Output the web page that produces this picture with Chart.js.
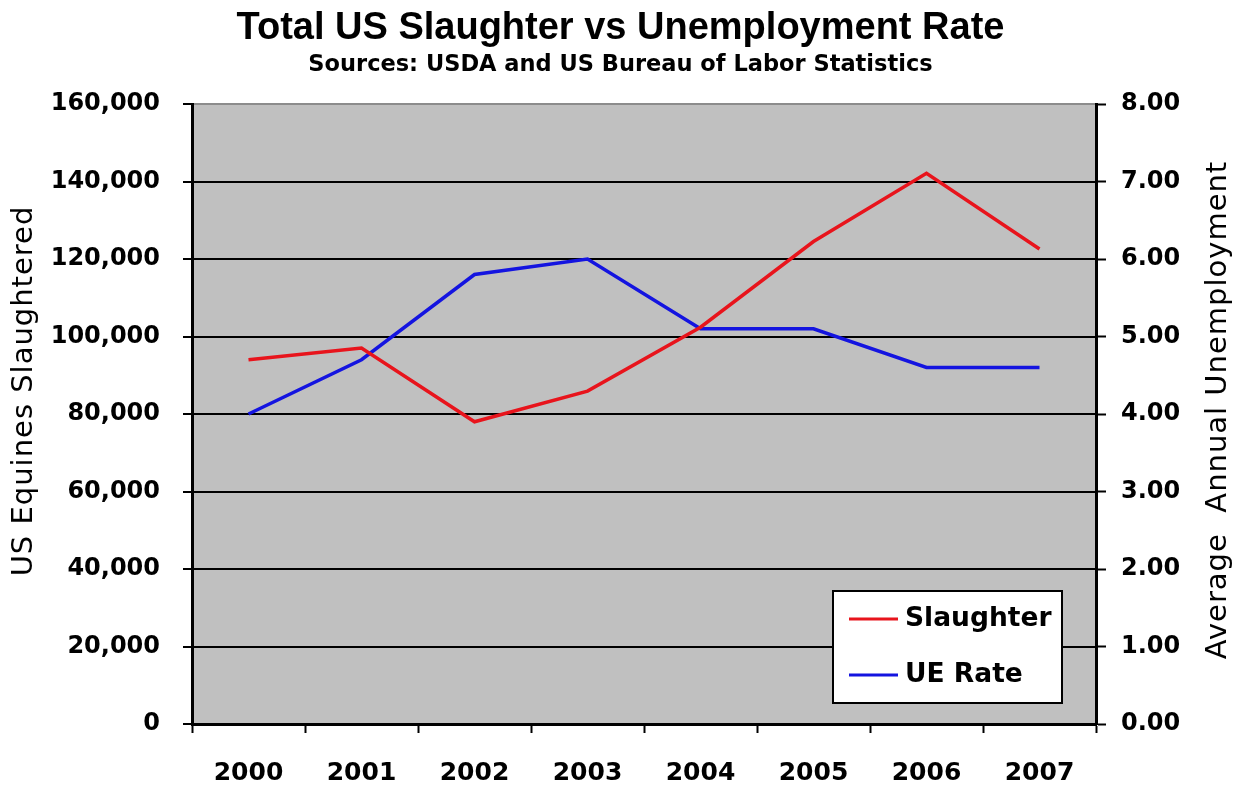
<!DOCTYPE html>
<html>
<head>
<meta charset="utf-8">
<script src="https://cdn.jsdelivr.net/npm/chart.js@4.4.1/dist/chart.umd.min.js"></script>
<style>
  html, body { margin: 0; padding: 0; background: #ffffff; }
  canvas { display: block; }
</style>
</head>
<body>
<canvas id="c" width="1241" height="786"></canvas>
<script>
// ---- data ----
const years = ['2000', '2001', '2002', '2003', '2004', '2005', '2006', '2007'];
const slaughter = [94000, 97000, 78000, 85900, 102400, 124500, 142100, 122600];
const ueRate = [4.0, 4.7, 5.8, 6.0, 5.1, 5.1, 4.6, 4.6];
const seriesNames = ['Slaughter', 'UE Rate'];
const seriesColors = ['#e8141c', '#1414e0'];
const chartTitle = 'Total US Slaughter vs Unemployment Rate';
const chartSubtitle = 'Sources: USDA and US Bureau of Labor Statistics';
const leftAxisTitle = 'US Equines Slaughtered';
const rightAxisTitle = 'Average  Annual Unemployment';
const leftMin = 0, leftMax = 160000, leftStep = 20000;
const rightMin = 0, rightMax = 8, rightStep = 1;

// ---- plugins ----
const plotBg = {
  id: 'plotBg',
  beforeDraw(chart) {
    const { ctx, chartArea: a } = chart;
    ctx.save();
    ctx.fillStyle = '#c0c0c0';
    ctx.fillRect(a.left, a.top, a.right - a.left, a.bottom - a.top);
    ctx.restore();
  }
};

function drawRotated(ctx, text, x, y, font, spacing) {
  ctx.save();
  ctx.translate(x, y);
  ctx.rotate(-Math.PI / 2);
  ctx.font = font;
  ctx.letterSpacing = spacing;
  ctx.textAlign = 'center';
  ctx.textBaseline = 'middle';
  ctx.fillStyle = '#000';
  ctx.fillText(text, 0, 0);
  ctx.restore();
}

const axisTitles = {
  id: 'axisTitles',
  afterDraw(chart) {
    const ctx = chart.ctx;
    drawRotated(ctx, leftAxisTitle, 24, 391, '29px "DejaVu Sans"', '1px');
    drawRotated(ctx, rightAxisTitle, 1218, 410, '29px "DejaVu Sans"', '1px');
  }
};

const boxLegend = {
  id: 'boxLegend',
  afterDraw(chart) {
    const { ctx, chartArea: a } = chart;
    const w = 229, h = 112;
    const x0 = a.right - 34 - w, y0 = a.bottom - 21 - h;
    ctx.save();
    ctx.fillStyle = '#ffffff';
    ctx.fillRect(x0, y0, w, h);
    ctx.strokeStyle = '#000';
    ctx.lineWidth = 2;
    ctx.strokeRect(x0, y0, w, h);
    chart.data.datasets.forEach((ds, i) => {
      const cy = y0 + 28 + i * 56;
      ctx.strokeStyle = ds.borderColor;
      ctx.lineWidth = 3;
      ctx.beginPath();
      ctx.moveTo(x0 + 16, cy);
      ctx.lineTo(x0 + 65, cy);
      ctx.stroke();
      ctx.fillStyle = '#000';
      ctx.font = 'bold 26.5px "DejaVu Sans"';
      ctx.textAlign = 'left';
      ctx.textBaseline = 'middle';
      ctx.fillText(ds.label, x0 + 72, cy);
    });
    ctx.restore();
  }
};

function build() {
  new Chart(document.getElementById('c'), {
    type: 'line',
    data: {
      labels: years,
      datasets: [
        { label: seriesNames[0], data: slaughter, yAxisID: 'y', borderColor: seriesColors[0], backgroundColor: seriesColors[0], borderWidth: 3.5, pointRadius: 0, tension: 0, fill: false },
        { label: seriesNames[1], data: ueRate, yAxisID: 'y2', borderColor: seriesColors[1], backgroundColor: seriesColors[1], borderWidth: 3.5, pointRadius: 0, tension: 0, fill: false }
      ]
    },
    options: {
      responsive: false,
      animation: false,
      devicePixelRatio: 1,
      layout: { padding: { left: 0, right: 0, top: 0, bottom: 0 } },
      plugins: {
        legend: { display: false },
        tooltip: { enabled: false },
        title: {
          display: true, text: chartTitle, color: '#000',
          font: { family: 'Liberation Sans', size: 38, weight: 'bold', lineHeight: 1.1 },
          padding: { top: 8, bottom: 1.7 }
        },
        subtitle: {
          display: true, text: chartSubtitle, color: '#000',
          font: { family: 'DejaVu Sans', size: 22.5, weight: 'bold', lineHeight: 1.2 },
          padding: { top: 0, bottom: 25.5 }
        }
      },
      scales: {
        x: {
          type: 'category',
          offset: true,
          grid: { offset: true, drawOnChartArea: false, drawTicks: true, tickLength: 9, tickColor: '#000', tickWidth: 2 },
          border: { display: true, color: '#000', width: 3 },
          ticks: { color: '#000', font: { family: 'DejaVu Sans', size: 25, weight: 'bold' }, padding: 25, maxRotation: 0, autoSkip: false },
          afterFit(s) { s.height = 62; }
        },
        y: {
          position: 'left',
          min: leftMin, max: leftMax,
          ticks: { stepSize: leftStep, color: '#000', font: { family: 'DejaVu Sans', size: 24, weight: 'bold' }, padding: 23,
                   callback: v => v.toLocaleString('en-US') },
          grid: { color: c => (c.tick && c.tick.value === leftMax) ? '#8c8c8c' : '#000', lineWidth: 2,
                  tickLength: 9, tickColor: '#000', tickWidth: 2 },
          border: { display: true, color: '#000', width: 3 },
          afterFit(s) { s.width = 192; }
        },
        y2: {
          position: 'right',
          min: rightMin, max: rightMax,
          ticks: { stepSize: rightStep, color: '#000', font: { family: 'DejaVu Sans', size: 24, weight: 'bold' }, padding: 15,
                   callback: v => Number(v).toFixed(2) },
          grid: { drawOnChartArea: false, tickLength: 10, tickColor: '#000', tickWidth: 2 },
          border: { display: true, color: '#000', width: 3 },
          afterFit(s) { s.width = 145; }
        }
      }
    },
    plugins: [plotBg, axisTitles, boxLegend]
  });
}

Promise.all([
  document.fonts.load('26px "DejaVu Sans"'),
  document.fonts.load('bold 22px "DejaVu Sans"'),
  document.fonts.load('bold 38px "Liberation Sans"')
]).catch(() => {}).then(build);
</script>
</body>
</html>
